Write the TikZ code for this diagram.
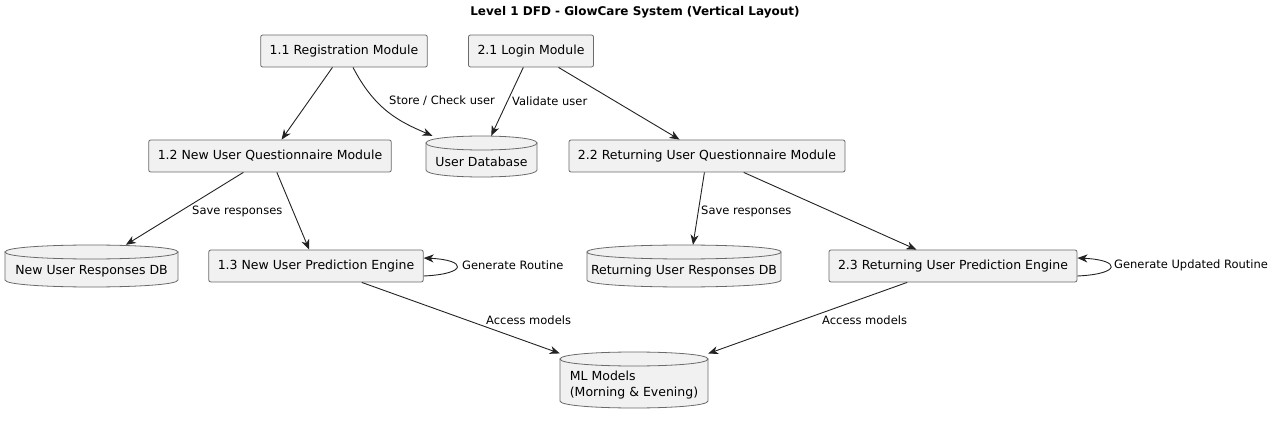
\documentclass[tikz,border=0pt]{standalone}
\usepackage{fontspec}
\setmainfont{DejaVu Sans}
\usetikzlibrary{arrows.meta}
\definecolor{boxfill}{HTML}{F1F1F1}
\definecolor{boxline}{HTML}{6A6A6A}
\definecolor{arr}{HTML}{222222}
\newcommand\mydb[6]{% name, x1, y1, x2, y2, text
  \path[fill=boxfill,draw=boxline,line width=0.8pt]
    ({#2},{#3+7}) -- ({#2},{#5-7}) .. controls ({#2},{#5+2.33}) and ({#4},{#5+2.33}) .. ({#4},{#5-7}) -- ({#4},{#3+7}) -- cycle;
  \path[fill=boxfill,draw=boxline,line width=0.8pt]
    ({#2},{#3+7}) .. controls ({#2},{#3-2.33}) and ({#4},{#3-2.33}) .. ({#4},{#3+7})
    .. controls ({#4},{#3+16.33}) and ({#2},{#3+16.33}) .. ({#2},{#3+7}) -- cycle;
  \node[inner sep=0pt,minimum width={#4-#2},minimum height={#5-#3}] (#1) at ({(#2+#4)/2},{(#3+#5)/2}) {};
  \node[nodefont,inner sep=0pt,align=left] at ({(#2+#4)/2},{(#3+#5)/2+5}) {#6};
}
\tikzset{
  nodefont/.style={font=\fontsize{12.5}{16}\selectfont},
  proc/.style={nodefont,draw=boxline,fill=boxfill,line width=0.8pt,rounded corners=2pt,inner xsep=9pt,minimum height=32pt},
  flow/.style={draw=arr,line width=0.9pt,-{Stealth[length=10pt,width=8pt,inset=3pt]}},
  lbl/.style={font=\fontsize{11.5}{14}\selectfont,inner sep=0pt,anchor=west}
}
\begin{document}
\begin{tikzpicture}[x=1pt,y=-1pt]
\useasboundingbox (0,0) rectangle (1280,422);
\node[font=\bfseries\fontsize{12}{14}\selectfont] (title) at (635,12) {Level 1 DFD - GlowCare System (Vertical Layout)};

\node[proc] (reg) at (344,51) {1.1 Registration Module};
\node[proc] (login) at (531,51) {2.1 Login Module};
\node[proc] (nq) at (270,156) {1.2 New User Questionnaire Module};
\node[proc] (rq) at (707,156) {2.2 Returning User Questionnaire Module};
\node[proc] (np) at (316,266) {1.3 New User Prediction Engine};
\node[proc] (rp) at (953,266) {2.3 Returning User Prediction Engine};

\mydb{udb}{426}{136}{537}{177}{User Database}
\mydb{ndb}{5}{245}{178}{287}{New User Responses DB}
\mydb{rdb}{587}{245}{781}{287}{Returning User Responses DB}
\mydb{ml}{560}{352}{708}{408}{ML Models\\(Morning \& Evening)}

\draw[flow] (reg) -- (nq);
\draw[flow] ([xshift=9pt]reg.south) .. controls (375,110) and (400,122) .. ([xshift=-49pt]udb.north);
\draw[flow] (login) -- (udb);
\draw[flow] (login) -- (rq);
\draw[flow] (nq) -- (ndb);
\draw[flow] (nq) -- (np);
\draw[flow] (rq) -- ([xshift=9pt]rdb.north);
\draw[flow] (rq) -- (rp);
\draw[flow] ([yshift=-10pt]np.east) .. controls +(44,-2) and +(44,2) .. ([yshift=8pt]np.east);
\draw[flow] ([yshift=-10pt]rp.east) .. controls +(44,-2) and +(44,2) .. ([yshift=8pt]rp.east);
\draw[flow] (np) -- (ml);
\draw[flow] (rp) -- (ml);

\node[lbl] (l1) at (389,101) {Store / Check user};
\node[lbl] (l2) at (512,101) {Validate user};
\node[lbl] (l3) at (192,211) {Save responses};
\node[lbl] (l4) at (701,211) {Save responses};
\node[lbl] (l5) at (462,265) {Generate Routine};
\node[lbl] (l6) at (1114,265) {Generate Updated Routine};
\node[lbl] (l7) at (486,320) {Access models};
\node[lbl] (l8) at (822,320) {Access models};
\end{tikzpicture}
\end{document}
